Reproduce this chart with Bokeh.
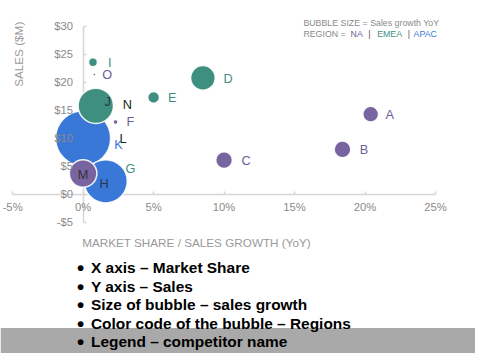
import math
from bokeh.plotting import figure
from bokeh.models import (ColumnDataSource, Label, BoxAnnotation, FixedTicker, LinearAxis,
                          NumeralTickFormatter, PrintfTickFormatter, Range1d)
from bokeh.embed import file_html
from bokeh.resources import INLINE

# ---------------- data (draw order) ----------------
names   = ["N", "L", "G", "K", "H", "M", "J", "D", "C", "B", "A", "E", "I", "F", "O"]
share   = [1.7, 1.5, 1.9, 0.0, 1.6, 0.0, 0.9, 8.5, 10.0, 18.4, 20.4, 5.0, 0.7, 2.3, 0.8]   # market share %
sales   = [16.0, 10.0, 4.5, 10.0, 2.3, 3.7, 15.8, 20.8, 6.1, 8.0, 14.3, 17.3, 23.6, 12.9, 21.4]  # $M
growth  = [2, 2, 2, 28, 22, 14, 18, 12.5, 8.5, 8.5, 8, 6, 4.5, 2.5, 1.5]  # sales growth YoY (bubble size)
region  = ["NA", "NA", "EMEA", "APAC", "APAC", "NA", "EMEA", "EMEA", "NA", "NA", "NA", "EMEA", "EMEA", "NA", "NA"]

x_ticks = [-5, 0, 5, 10, 15, 20, 25]
y_ticks = [-5, 0, 5, 10, 15, 20, 25, 30]

bullets = ["X axis \u2013 Market Share",
           "Y axis \u2013 Sales",
           "Size of bubble \u2013 sales growth",
           "Color code of the bubble \u2013 Regions",
           "Legend \u2013 competitor name"]

# ---------------- styling ----------------
FONT = "Liberation Sans"
REGION_COLORS = {"NA": "#7764a1", "EMEA": "#3f8f80", "APAC": "#3a78d7"}
LABEL_COLORS = {"NA": "#6c5d96", "EMEA": "#3f8f80", "APAC": "#3a78d7"}
DARK_LABELS = {"J": "#2e3440", "N": "#222222", "L": "#222222", "H": "#2a3550", "M": "#333333"}
# label offsets (reference px) relative to bubble centre
LABEL_OFF = {"A": (19.5, 0), "B": (22, 0), "C": (22.5, 0), "D": (25.5, 1), "E": (19, 0),
             "F": (15, -1), "G": (21, 0), "H": (-1.5, 2), "I": (17, 0), "J": (12, -4),
             "K": (36, 6.5), "L": (19, 0), "M": (0, 1), "N": (20.5, 0), "O": (13, 0)}

RW, RH = 483, 361          # reference picture size
W, H = 475, 353            # figure size (fits window with 8px margin)
SX, SY = W / RW, H / RH
PX_X = 430 / 30.0          # reference px per % share
PX_Y = 200 / 35.0          # reference px per $M
X0, Y0 = 84, 198           # reference position of the origin


def dxp(px):
    return (px - X0) / PX_X


def dyp(py):
    return (Y0 - py) / PX_Y


def fs(v):
    return "%.2fpx" % (v * SY)


src = ColumnDataSource(dict(
    name=names, share=share, sales=sales,
    size=[2 * g * SX for g in growth],
    color=[REGION_COLORS[r] for r in region],
    lcolor=[DARK_LABELS.get(n, LABEL_COLORS[r]) for n, r in zip(names, region)],
    xo=[LABEL_OFF[n][0] * SX for n in names],
    yo=[LABEL_OFF[n][1] * SY for n in names],
))

p = figure(width=W, height=H, output_backend="svg", toolbar_location=None,
           x_range=Range1d(dxp(0), dxp(RW)), y_range=Range1d(dyp(RH), dyp(0)),
           min_border=0, min_border_left=0, min_border_right=0,
           min_border_top=0, min_border_bottom=0)
p.outline_line_color = None
p.grid.visible = False
p.background_fill_color = "white"
p.border_fill_color = "white"

# bottom grey band
p.add_layout(BoxAnnotation(top=dyp(335), fill_color="#a9a9a9", fill_alpha=1.0,
                           line_color=None, level="underlay"))

# axis lines + ticks (drawn beneath the bubbles)
line_x = LinearAxis(level="underlay")
line_y = LinearAxis(level="underlay")
p.add_layout(line_x, "below")
p.add_layout(line_y, "left")

# axes with labels (drawn above the bubbles)
for ax, ticks, bounds, is_line in ((p.xaxis[0], x_ticks, (-5, 25), False),
                                   (p.yaxis[0], y_ticks, (-5, 30), False),
                                   (line_x, x_ticks, (-5, 25), True),
                                   (line_y, y_ticks, (-5, 30), True)):
    ax.fixed_location = 0
    ax.ticker = FixedTicker(ticks=ticks)
    ax.bounds = bounds
    ax.axis_line_color = "#d6d6d6" if is_line else None
    ax.axis_line_width = 1.5
    ax.major_tick_line_color = "#d6d6d6" if is_line else None
    ax.major_tick_line_width = 1.5
    ax.major_tick_in = 3
    ax.major_tick_out = 0
    ax.minor_tick_line_color = None
    ax.major_label_text_font = FONT
    ax.major_label_text_font_size = fs(11.5)
    ax.major_label_text_color = "#8a8a8a"
    ax.major_label_text_alpha = 0.0 if is_line else 1.0
for ax in (p.xaxis[0], line_x):
    ax.formatter = PrintfTickFormatter(format="%d%%")
    ax.major_label_standoff = 7
for ax in (p.yaxis[0], line_y):
    ax.formatter = NumeralTickFormatter(format="$0")
    ax.major_label_standoff = 10

# bubbles
p.scatter(x="share", y="sales", size="size", source=src, fill_color="color",
          fill_alpha=1.0, line_color="white", line_width=1.5, line_alpha=0.9)

# bubble labels
p.text(x="share", y="sales", text="name", source=src, x_offset="xo", y_offset="yo",
       text_color="lcolor", text_font_size=fs(13), text_align="center",
       text_baseline="middle", text_font={"value": FONT})

# axis titles
p.add_layout(Label(x=dxp(18), y=dyp(55), text="SALES ($M)", angle=math.pi / 2,
                   text_font=FONT, text_font_size=fs(12), text_color="#999999",
                   text_align="center", text_baseline="middle"))
p.add_layout(Label(x=dxp(83), y=dyp(247), text="MARKET SHARE / SALES GROWTH (YoY)",
                   text_font=FONT, text_font_size=fs(12), text_color="#999999",
                   text_align="left", text_baseline="middle"))

# size/colour key
p.add_layout(Label(x=dxp(308), y=dyp(23), text="BUBBLE SIZE = Sales growth YoY",
                   text_font=FONT, text_font_size=fs(9), text_color="#8a8a8a",
                   text_baseline="middle"))
for txt, xp, col in (("REGION = ", 308, "#8a8a8a"), ("NA", 356, LABEL_COLORS["NA"]),
                     ("|", 374, "#555555"), ("EMEA", 383, LABEL_COLORS["EMEA"]),
                     ("|", 414, "#555555"), ("APAC", 420, LABEL_COLORS["APAC"])):
    p.add_layout(Label(x=dxp(xp), y=dyp(34), text=txt, text_font=FONT,
                       text_font_size=fs(9), text_color=col, text_baseline="middle"))

# bullet list
for i, b in enumerate(bullets):
    mid = 273.5 + 18.9 * i
    p.add_layout(Label(x=dxp(81.5), y=dyp(mid), text="\u2022", text_font=FONT,
                       text_font_size=fs(21), text_font_style="bold", text_color="black",
                       text_align="center", text_baseline="middle"))
    p.add_layout(Label(x=dxp(92), y=dyp(mid), text=b, text_font=FONT,
                       text_font_size=fs(15.8), text_font_style="bold", text_color="black",
                       text_align="left", text_baseline="middle"))

open("out.html", "w").write(file_html(p, INLINE))
